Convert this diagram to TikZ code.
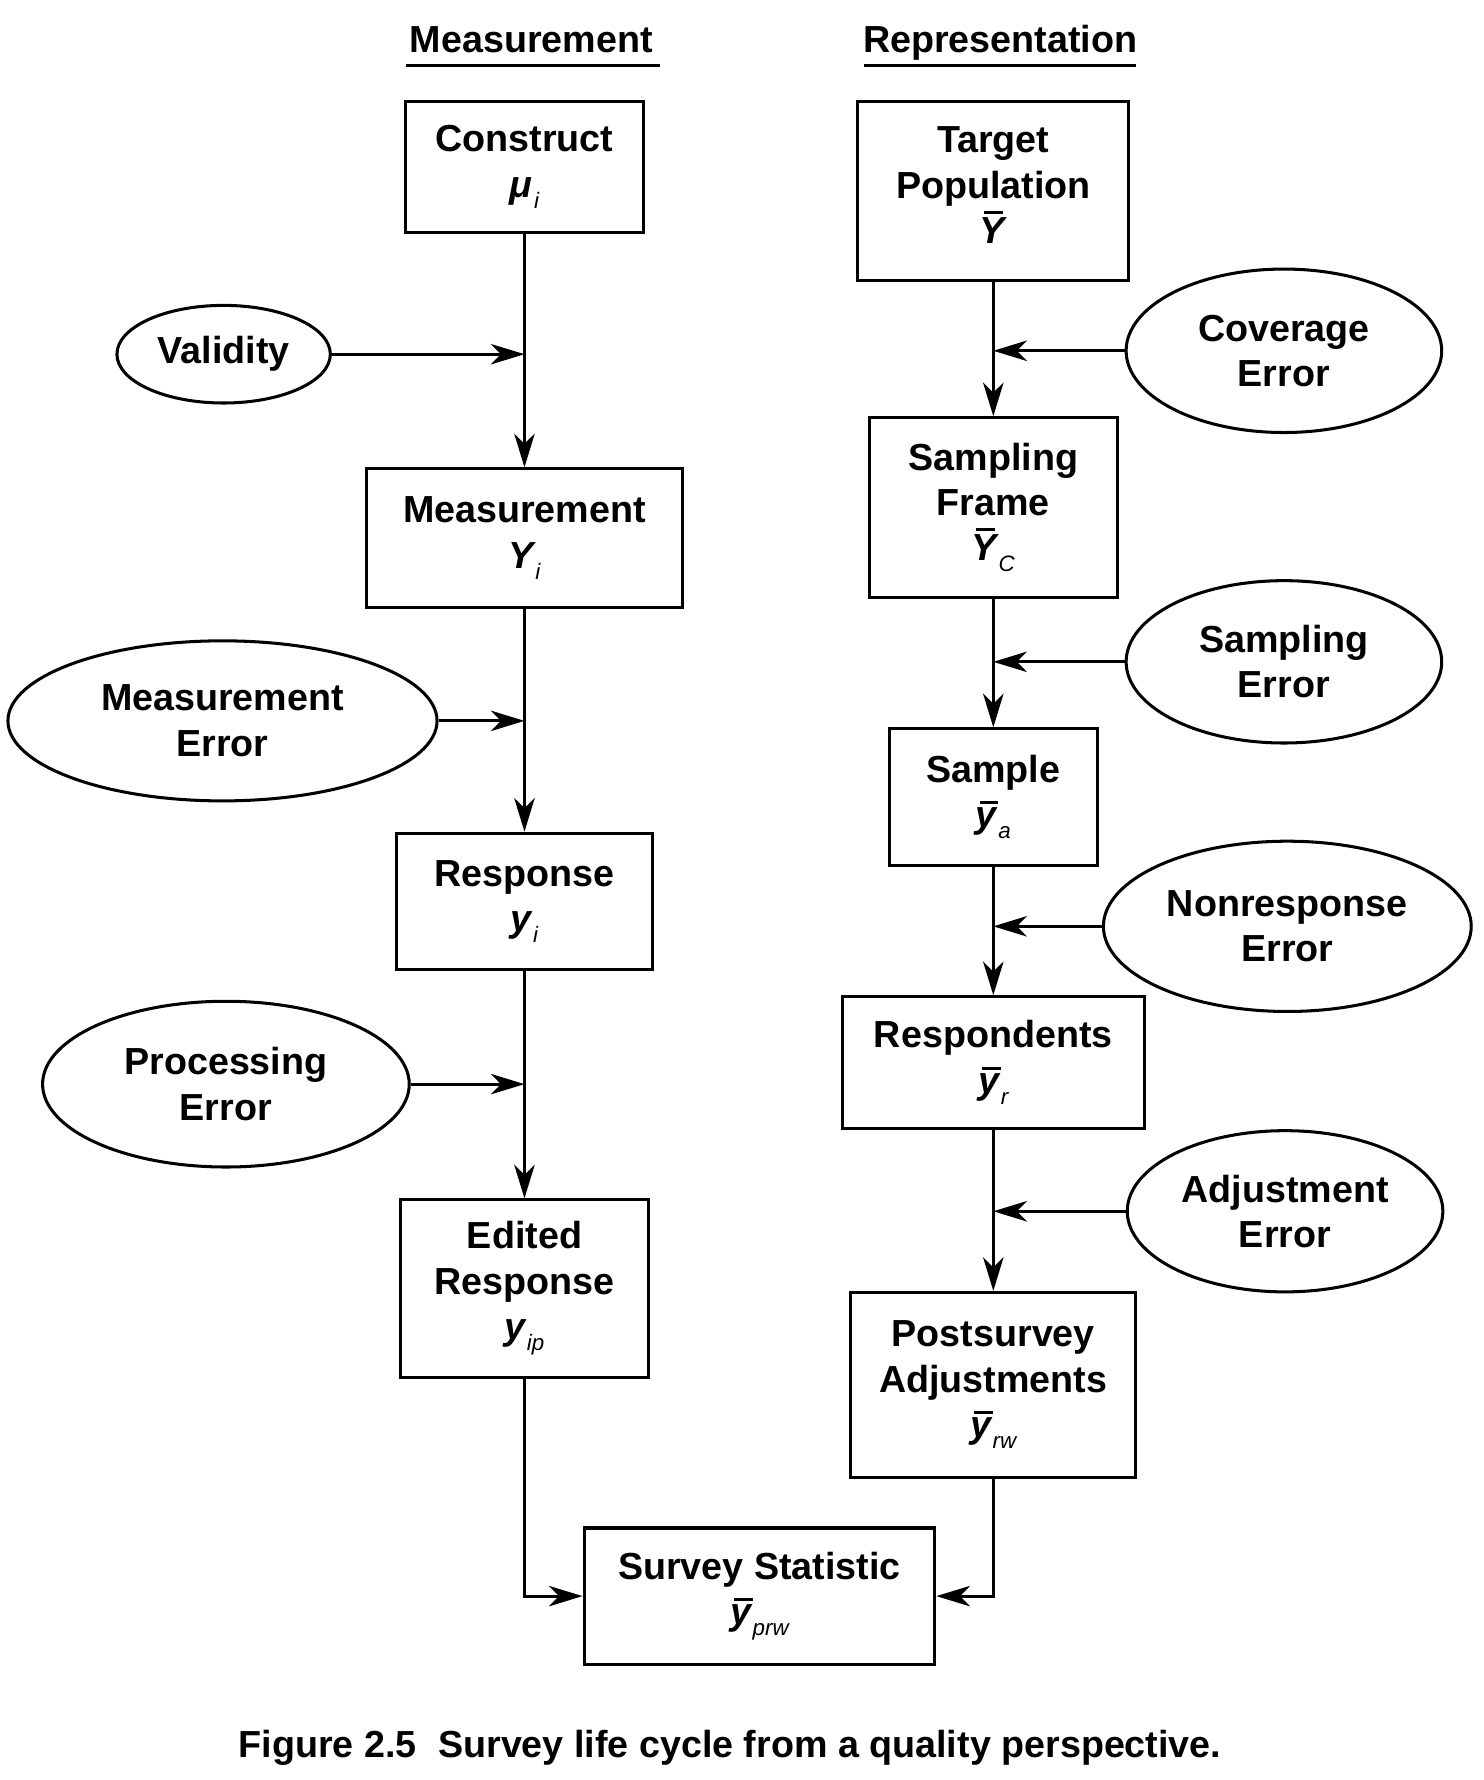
\documentclass[tikz,border=0pt]{standalone}
\usepackage{fontspec}
\setmainfont{Liberation Sans}
\usetikzlibrary{shapes.geometric,arrows.meta}
% estimator symbols: bold italic letter, small regular italic subscript
\newcommand\subidx[1]{\kern0.04em\raisebox{-0.3em}{\fontsize{14}{14}\selectfont\mdseries\itshape #1}}
\newcommand\barred[1]{\leavevmode\setbox0\hbox{#1}%
  \rlap{\kern0.1em\raisebox{\dimexpr\ht0+0.1em\relax}{\rule{0.5em}{0.08em}}}\box0}
\newcommand\snobar[2]{{\bfseries\itshape #1}\subidx{#2}}
\newcommand\sbar[2]{\barred{\bfseries\itshape #1}\subidx{#2}}
\begin{document}
\begin{tikzpicture}[x=0.025cm,y=-0.025cm,
  lbl/.style={font=\fontsize{23.6}{28.4}\selectfont\bfseries, align=center},
  stage/.style 2 args={lbl, draw, line width=1.9pt, inner sep=0pt,
    minimum width=#1*0.025cm, minimum height=#2*0.025cm},
  errsrc/.style 2 args={lbl, draw, ellipse, line width=1.9pt, inner sep=0pt,
    minimum width=#1*0.025cm, minimum height=#2*0.025cm},
  flow/.style={line width=1.9pt, -{Stealth[length=0.74cm,width=0.45cm,inset=0.22cm]}},
  rule/.style={line width=1.9pt},
]
\useasboundingbox (0,0) rectangle (1307,1568);

% column headings
\node[lbl, anchor=base] (hm) at (468,46) {Measurement};
\node[lbl, anchor=base] (hr) at (881,46) {Representation};
\draw[rule] (358,58) -- (581,58);
\draw[rule] (761,58) -- (1001,58);

% measurement side
\node[stage={210}{116}] (construct) at (462,147) {Construct\\\snobar{μ}{i}};
\node[stage={278}{122}] (meas) at (462,474) {Measurement\\\snobar{Y}{i}};
\node[stage={226}{120}] (resp) at (462,794) {Response\\\snobar{y}{i}};
\node[stage={219}{156}] (edit) at (462,1135) {Edited\\Response\\\snobar{y}{ip}};

\node[errsrc={188}{86}] (valid) at (197,312) {Validity};
\node[errsrc={378}{141}] (merr) at (196,635) {Measurement\\Error};
\node[errsrc={323}{146}] (perr) at (199,955) {Processing\\Error};

% representation side
\node[stage={239}{158}] (target) at (875,168) {Target\\Population\\\sbar{Y}{}};
\node[stage={218}{158}] (frame) at (875,447) {Sampling\\Frame\\\sbar{Y}{C}};
\node[stage={183}{120}] (sample) at (875,702) {Sample\\\sbar{y}{a}};
\node[stage={266}{116}] (resps) at (875,936) {Respondents\\\sbar{y}{r}};
\node[stage={251}{163}] (post) at (875,1220) {Postsurvey\\Adjustments\\\sbar{y}{rw}};

\node[errsrc={278}{144}] (cov) at (1131,309) {Coverage\\Error};
\node[errsrc={278}{143}] (serr) at (1131,583) {Sampling\\Error};
\node[errsrc={324}{150}] (nerr) at (1134,816) {Nonresponse\\Error};
\node[errsrc={278}{142}] (aerr) at (1132,1067) {Adjustment\\Error};

% final estimate
\node[stage={309}{120}] (stat) at (669,1406) {Survey Statistic\\\sbar{y}{prw}};

% spines
\draw[flow] (construct) -- (meas);
\draw[flow] (meas) -- (resp);
\draw[flow] (resp) -- (edit);
\draw[flow] (target) -- (frame);
\draw[flow] (frame) -- (sample);
\draw[flow] (sample) -- (resps);
\draw[flow] (resps) -- (post);

% error sources feeding the spines
\draw[flow] (valid.east) -- (valid.east -| construct.south);
\draw[flow] (merr.east) -- (merr.east -| meas.south);
\draw[flow] (perr.east) -- (perr.east -| resp.south);
\draw[flow] (cov.west) -- (cov.west -| target.south);
\draw[flow] (serr.west) -- (serr.west -| frame.south);
\draw[flow] (nerr.west) -- (nerr.west -| sample.south);
\draw[flow] (aerr.west) -- (aerr.west -| resps.south);

% both sides join into the statistic
\draw[flow] (edit.south) |- (stat.west);
\draw[flow] (post.south) |- (stat.east);

% caption
\node[lbl, anchor=base] (cap) at (643,1548) {Figure 2.5\hspace{0.3em} Survey life cycle from a quality perspective.};
\end{tikzpicture}
\end{document}
